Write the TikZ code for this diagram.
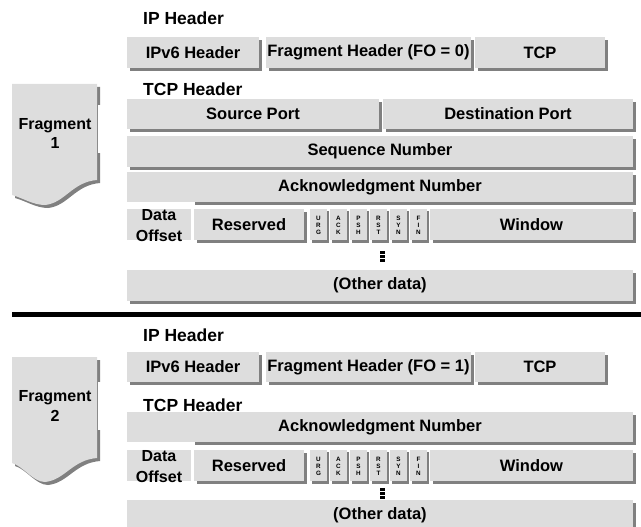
\documentclass[tikz,border=0pt]{standalone}
\usepackage{fontspec}
\setmainfont{Liberation Sans}
\definecolor{boxgray}{RGB}{221,221,221}
\definecolor{shadegray}{RGB}{128,128,128}
\tikzset{
  fld/.style={fill=boxgray, inner sep=0pt, font=\bfseries\fontsize{16.5}{18}\selectfont},
  heading/.style={anchor=west, inner sep=0pt, font=\bfseries\fontsize{17.5}{19}\selectfont},
  flagtxt/.style={inner sep=0pt, align=center, font=\bfseries\fontsize{6.3}{6.8}\selectfont},
  fragtxt/.style={inner sep=0pt, align=center, font=\bfseries\fontsize{16}{17}\selectfont},
  dotext/.style={inner sep=0pt, font=\bfseries\fontsize{16}{17}\selectfont},
}
% field box with drop shadow: name, x1, y1, x2, y2, text
\newcommand\pktfield[6]{%
  \fill[shadegray] ({#2+3},{#3+3}) rectangle ({#4+3},{#5+3});
  \node[fld, minimum width={(#4-#2)*1pt}, minimum height={(#5-#3)*1pt}]
    (#1) at ({(#2+#4)/2},{(#3+#5)/2}) {#6};
}
% one-bit flag column: name, x, top, bottom, stacked letters
\newcommand\flagbit[5]{%
  \fill[shadegray] ({#2+2},{#3+2}) rectangle ({#2+19},{#4+2.5});
  \node[fld, minimum width=17pt, minimum height={(#4-#3)*1pt}]
    (#1) at ({#2+8.5},{(#3+#4)/2}) {};
  \node[flagtxt] at ({#2+8.5},{(#3+#4)/2+1}) {#5};
}
% vertical ellipsis: x, top
\newcommand\vdotsbar[2]{%
  \foreach \k in {0,1,2}
    \fill[black] ({#1},{#2+\k*4}) rectangle ({#1+5},{#2+\k*4+3.2});
}
% fragment tab: top, right-bottom, lowest point, left-bottom, gap top, gap bottom, name
\newcommand\fragshape[7]{%
  \fill[shadegray] (15,{#1+3}) -- (100,{#1+3}) -- (100,{#2+3})
    .. controls (75,{#2+5}) and (68,{#3+1}) .. (48,{#3+3})
    .. controls (36,{#3+3}) and (26,{#4+6}) .. (15,{#4+3}) -- cycle;
  \fill[white] (97.5,{#5}) rectangle (101,{#6});
  \fill[boxgray] (12,{#1}) -- (97,{#1}) -- (97,{#2})
    .. controls (72,{#2+2}) and (65,{#3-2}) .. (45,{#3})
    .. controls (33,{#3}) and (23,{#4+3}) .. (12,{#4}) -- cycle;
  \coordinate (#7) at (55,{(#5+#6)/2});
}
\begin{document}
\begin{tikzpicture}[x=1pt,y=-1pt]
\useasboundingbox (0,0) rectangle (641,527);
\clip (0,0) rectangle (641,527);

% ---------------- Fragment 1 ----------------
\fragshape{84}{180}{205}{195}{105}{153}{frag1}
\node[fragtxt] (frag1a) at (55,126) {Fragment};
\node[fragtxt] (frag1b) at (55,143) {1};

\node[heading] (ip1) at (143,18) {IP Header};
\pktfield{ipv6a}{127}{37}{259}{68}{IPv6 Header}
\pktfield{fraga}{266}{37}{471}{68}{Fragment Header (FO = 0)}
\pktfield{tcpa}{475}{37}{605}{68}{TCP}

\node[heading] (tcp1) at (143,89.5) {TCP Header};
\pktfield{srcport}{127}{99}{379}{129}{Source Port}
\pktfield{dstport}{383}{99}{633}{129}{Destination Port}
\pktfield{seqnum}{127}{136}{633}{167}{Sequence Number}
\pktfield{acka}{127}{172}{633}{202}{Acknowledgment Number}
\fill[white] (127,202) rectangle (195,208.5);

\node[fld, minimum width=64pt, minimum height=31pt] (doa) at (159,224.5) {};
\node[dotext] (doa1) at (159,215) {Data};
\node[dotext] (doa2) at (159,236) {Offset};
\pktfield{resa}{194}{209}{304}{240}{Reserved}
\flagbit{urga}{310}{209}{240}{U\\R\\G}
\flagbit{acka2}{330}{209}{240}{A\\C\\K}
\flagbit{psha}{350}{209}{240}{P\\S\\H}
\flagbit{rsta}{370}{209}{240}{R\\S\\T}
\flagbit{syna}{390}{209}{240}{S\\Y\\N}
\flagbit{fina}{410}{209}{240}{F\\I\\N}
\pktfield{wina}{430}{209}{633}{240}{Window}
\vdotsbar{380}{251}
\pktfield{otha}{127}{270}{633}{301}{(Other data)}

% separator
\draw[line width=4.5pt] (12,314.5) -- (641,314.5);

% ---------------- Fragment 2 ----------------
\fragshape{357}{458}{482}{463}{382}{430}{frag2}
\node[fragtxt] (frag2a) at (55,398) {Fragment};
\node[fragtxt] (frag2b) at (55,416) {2};

\node[heading] (ip2) at (143,335) {IP Header};
\pktfield{ipv6b}{127}{352}{259}{382}{IPv6 Header}
\pktfield{fragb}{266}{352}{471}{382}{Fragment Header (FO = 1)}
\pktfield{tcpb}{475}{352}{605}{382}{TCP}

\node[heading] (tcp2) at (143,405) {TCP Header};
\pktfield{ackb}{127}{412}{633}{442}{Acknowledgment Number}
\fill[white] (127,442) rectangle (195,449.5);

\node[fld, minimum width=64pt, minimum height=31pt] (dob) at (159,465.5) {};
\node[dotext] (dob1) at (159,456) {Data};
\node[dotext] (dob2) at (159,477) {Offset};
\pktfield{resb}{194}{450}{304}{481}{Reserved}
\flagbit{urgb}{310}{450}{481}{U\\R\\G}
\flagbit{ackb2}{330}{450}{481}{A\\C\\K}
\flagbit{pshb}{350}{450}{481}{P\\S\\H}
\flagbit{rstb}{370}{450}{481}{R\\S\\T}
\flagbit{synb}{390}{450}{481}{S\\Y\\N}
\flagbit{finb}{410}{450}{481}{F\\I\\N}
\pktfield{winb}{430}{450}{633}{481}{Window}
\vdotsbar{380}{488}
\pktfield{othb}{127}{500}{633}{531}{(Other data)}
\end{tikzpicture}
\end{document}
